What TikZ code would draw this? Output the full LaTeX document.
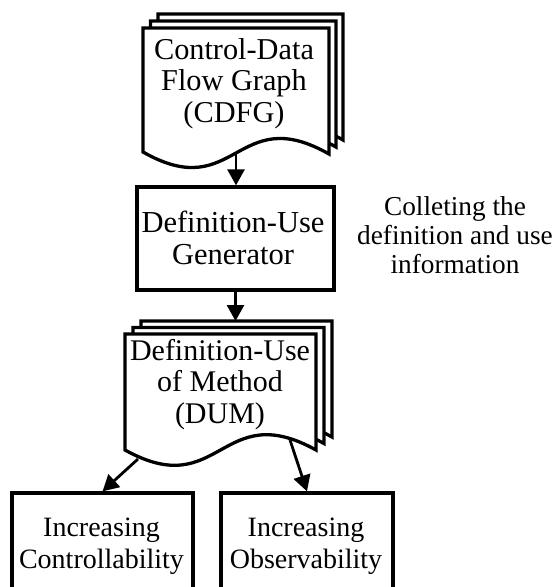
\documentclass[tikz,border=0pt]{standalone}
\usepackage{fontspec}
\setmainfont{Liberation Serif}
\usetikzlibrary{arrows.meta}
\newcommand\mydocpage[7]{%
  \draw[page] (#1,#3) -- (#2,#3) -- (#2,#5)
    .. controls (#6,#5-#7) and (#6,#4+#7) .. (#1,#4) -- cycle;}
\begin{document}
\begin{tikzpicture}[x=1pt,y=-1pt,
  page/.style={draw=black, fill=white, line width=3.3pt},
  boxnode/.style={draw=black, fill=white, line width=3.3pt, inner sep=0pt},
  lbl/.style={align=center, anchor=base, inner sep=0pt, font=\fontsize{30.3}{31.5}\selectfont},
  conn/.style={line width=2.8pt, -{Triangle[width=17pt,length=16pt]}},
]
\useasboundingbox (0,0) rectangle (558,587);
\clip (0,0) rectangle (558,587);
% CDFG document stack
\mydocpage{158}{343}{14}{138}{140}{251}{53}
\mydocpage{150.5}{336}{21}{145}{147}{243.5}{53}
\mydocpage{143}{329}{28}{152}{154}{236}{53}
\node[lbl] (cdfg) at (234,122) {Control-Data\\Flow Graph\\(CDFG)};
\coordinate (cdfgout) at (236,153);
% generator
\node[boxnode, minimum width=197pt, minimum height=103pt] (gen) at (235.5,238.5) {};
\node[lbl, font=\fontsize{30.5}{32}\selectfont] (genlbl) at (233,264) {Definition-Use\\Generator};
% side note
\node[lbl, font=\fontsize{27.3}{29}\selectfont] (note) at (455,273) {Colleting the\\definition and use\\information};
% DUM document stack
\mydocpage{141}{332}{321}{437}{437}{236.5}{53}
\mydocpage{133}{324}{327.5}{443.5}{443.5}{228.5}{53}
\mydocpage{125}{316}{334}{450}{450}{220.5}{53}
\node[lbl, font=\fontsize{30}{31.5}\selectfont] (dum) at (220,423) {Definition-Use\\of Method\\(DUM)};
\coordinate (dumin) at (235.5,321);
\coordinate (dumoutl) at (138,459);
\coordinate (dumoutr) at (290,440);
% bottom boxes
\node[boxnode, minimum width=181pt, minimum height=120pt] (ctrl) at (102.5,553) {};
\node[boxnode, minimum width=172pt, minimum height=120pt] (obs) at (307,553) {};
\node[lbl, font=\fontsize{28}{32}\selectfont] (ctrllbl) at (101.5,568) {Increasing\\Controllability};
\node[lbl, font=\fontsize{28}{32}\selectfont] (obslbl) at (306,568) {Increasing\\Observability};
% connectors
\draw[conn] (cdfgout) -- (cdfgout |- gen.north);
\draw[conn] (gen.south) -- (dumin);
\draw[conn] (dumoutl) -- (ctrl.north);
\draw[conn] (dumoutr) -- (obs.north);
\end{tikzpicture}
\end{document}
